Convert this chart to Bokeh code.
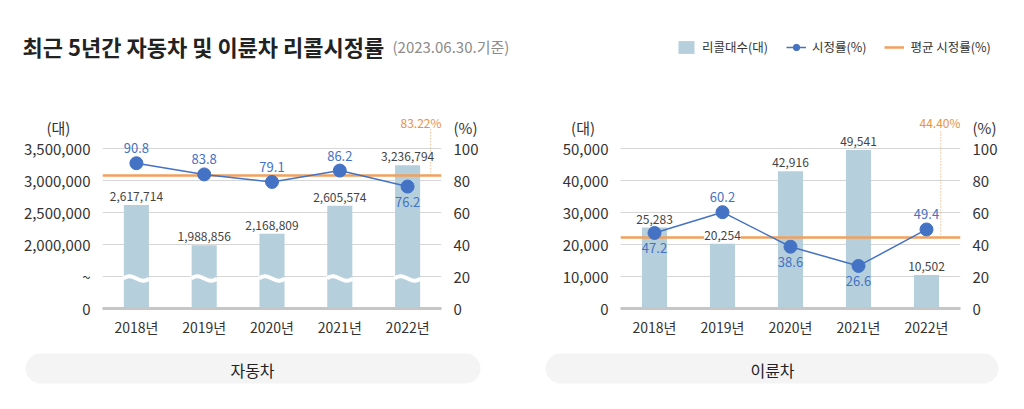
from bokeh.plotting import figure
from bokeh.models import (ColumnDataSource, FactorRange, Range1d, LinearAxis, FixedTicker,
                          NumeralTickFormatter, Legend, LegendItem, BoxAnnotation)
from bokeh.transform import dodge
from bokeh.layouts import column, row
from bokeh.core.properties import value
from bokeh.embed import file_html
from bokeh.resources import INLINE

# ---------------- data ----------------
title_text = "최근 5년간 자동차 및 이륜차 리콜시정률"
subtitle_text = "(2023.06.30.기준)"
years = ["2018년", "2019년", "2020년", "2021년", "2022년"]

car_recalls = [2617714, 1988856, 2168809, 2605574, 3236794]
car_rates = [90.8, 83.8, 79.1, 86.2, 76.2]
car_avg = 83.22

moto_recalls = [25283, 20254, 42916, 49541, 10502]
moto_rates = [47.2, 60.2, 38.6, 26.6, 49.4]
moto_avg = 44.40

pct_ticks = [0, 20, 40, 60, 80, 100]
car_count_ticks = [0, 20, 40, 60, 80, 100]
car_count_tick_labels = ["0", "~", "2,000,000", "2,500,000", "3,000,000", "3,500,000"]
moto_count_ticks = [0, 10000, 20000, 30000, 40000, 50000]

count_unit = "(대)"
pct_unit = "(%)"
legend_labels = ["리콜대수(대)", "시정률(%)", "평균 시정률(%)"]
panel_names = ["자동차", "이륜차"]

# broken axis for cars: 2,000,000..3,500,000 drawn over 40..100 of the % scale
car_break_lo, car_break_hi = 2000000, 3500000

# ---------------- styles / layout ----------------
FONT = "Noto Sans CJK KR"
BAR = "#b5d0dc"
BLUE = "#4472c4"
ORANGE = "#f2a15c"
ORANGE_TXT = "#f0913a"
TXT = "#333333"
GRID = "#d6d6d6"
HEADER_H = 115
PX_PER_PCT = 1.6
PCT_TOP = (308 - HEADER_H) / PX_PER_PCT     # % value at the top edge of the frame
UNIT_AT = (308 - 127) / PX_PER_PCT          # height (in %) of the unit captions
AVG_LAB_AT = (308 - 122) / PX_PER_PCT       # height of the average caption
DOT_TOP = (308 - 129) / PX_PER_PCT
NB = "\u00a0"

car_label_pos = ["above", "above", "above", "above", "below"]
moto_label_pos = ["below", "above", "below", "below", "above"]


def offsets(pos):
    return [-15 if s == "above" else 15 for s in pos]


def make_chart(width, bl, br, heights, counts, rates, pos, avg, scale, dot_off,
               left_ticks, left_overrides, use_numeral, wave=False):
    p = figure(width=width, height=343 - HEADER_H, x_range=FactorRange(*years),
               y_range=Range1d(0, PCT_TOP * scale), toolbar_location=None, output_backend="svg",
               min_border_left=bl, min_border_right=br, min_border_top=0, min_border_bottom=35)
    p.extra_y_ranges = {"pct": Range1d(0, PCT_TOP)}
    p.outline_line_color = None
    p.xgrid.visible = False
    p.ygrid.ticker = FixedTicker(ticks=left_ticks)
    p.ygrid.grid_line_color = GRID

    p.yaxis.ticker = FixedTicker(ticks=left_ticks + [UNIT_AT * scale])
    if use_numeral:
        p.yaxis.formatter = NumeralTickFormatter(format="0,0")
    p.yaxis.major_label_overrides = left_overrides
    ra = LinearAxis(y_range_name="pct", ticker=FixedTicker(ticks=pct_ticks + [UNIT_AT]),
                    major_label_overrides={UNIT_AT: pct_unit})
    p.add_layout(ra, "right")
    for ax in p.yaxis:
        ax.axis_line_color = None
        ax.major_tick_line_color = None
        ax.minor_tick_line_color = None
        ax.major_tick_out = 0
        ax.minor_tick_out = 0
        ax.major_label_text_font = FONT
        ax.major_label_text_font_size = "15px"
        ax.major_label_text_color = TXT
        ax.major_label_standoff = 12
    xa = p.xaxis[0]
    xa.axis_line_color = "#c6c6c6"
    xa.axis_line_width = 3
    xa.major_tick_line_color = None
    xa.minor_tick_line_color = None
    xa.major_tick_out = 0
    xa.minor_tick_out = 0
    xa.major_label_text_font = FONT
    xa.major_label_text_font_size = "14px"
    xa.major_label_text_color = TXT
    xa.major_label_standoff = 8

    src = ColumnDataSource(dict(
        year=years, h=heights,
        blab=[f"{v:,}" for v in counts],
        rate=rates, rlab=[f"{v:.1f}" for v in rates],
        roff=offsets(pos),
    ))
    p.vbar(x="year", top="h", width=0.37, source=src, fill_color=BAR, line_color=None)
    if wave:
        yb = 18.75
        p.bezier(x0=dodge("year", -0.19, range=p.x_range), y0=yb,
                 x1=dodge("year", 0.19, range=p.x_range), y1=yb,
                 cx0=dodge("year", -0.06, range=p.x_range), cy0=yb + 5,
                 cx1=dodge("year", 0.06, range=p.x_range), cy1=yb - 5,
                 source=src, line_color="white", line_width=4)
    p.hspan(y=[avg], y_range_name="pct", line_color=ORANGE, line_width=2.5)

    asrc = ColumnDataSource(dict(year=[years[-1]], avg=[avg], lab=[f"{avg:.2f}%"]))
    p.segment(x0=dodge("year", dot_off, range=p.x_range), y0="avg",
              x1=dodge("year", dot_off, range=p.x_range), y1=DOT_TOP,
              source=asrc, y_range_name="pct", line_color=ORANGE, line_width=1,
              line_dash="1 2")
    p.text(x=dodge("year", 0.5, range=p.x_range), y=AVG_LAB_AT, text="lab", source=asrc,
           y_range_name="pct", text_align="right", text_baseline="middle",
           text_font=value(FONT), text_font_size="12px", text_color=ORANGE_TXT)

    p.text(x="year", y="h", text="blab", source=src, text_align="center",
           text_baseline="bottom", y_offset=-4, text_font=value(FONT),
           text_font_size="12px", text_color="#444444", background_fill_color="white")
    p.line(x="year", y="rate", source=src, y_range_name="pct", line_color=BLUE, line_width=1.5)
    p.scatter(x="year", y="rate", source=src, y_range_name="pct", size=13,
              fill_color=BLUE, line_color=BLUE)
    p.text(x="year", y="rate", text="rlab", source=src, y_range_name="pct",
           y_offset="roff", text_align="center", text_baseline="middle",
           text_font=value(FONT), text_font_size="13px", text_color=BLUE)
    return p


car_heights = [40 + (v - car_break_lo) / (car_break_hi - car_break_lo) * 60 for v in car_recalls]
car_over = dict(zip(car_count_ticks, car_count_tick_labels))
car_over[UNIT_AT] = count_unit + NB * 6
moto_over = {UNIT_AT * 500: count_unit + NB * 4}

p1 = make_chart(520, 102, 79, car_heights, car_recalls, car_rates, car_label_pos, car_avg,
                1, 0.34, car_count_ticks, car_over, False, wave=True)
p2 = make_chart(488, 100, 48, moto_recalls, moto_recalls, moto_rates, moto_label_pos, moto_avg,
                500, 0.21, moto_count_ticks, moto_over, True)

# ---------------- header (title, legend) ----------------
H = HEADER_H
hp = figure(width=1008, height=H, x_range=Range1d(0, 1008), y_range=Range1d(0, H),
            min_border=0, toolbar_location=None, output_backend="svg",
            x_axis_type=None, y_axis_type=None)
hp.grid.visible = False
hp.outline_line_color = None
hp.text(x=[22], y=[H - 45], text=[title_text], text_font=value(FONT), text_font_size="22px",
        text_color="#222222", text_baseline="middle", text_font_style="bold")
hp.text(x=[392], y=[H - 46], text=[subtitle_text], text_font=value(FONT), text_font_size="15px",
        text_color="#8c8c8c", text_baseline="middle")

rb = hp.vbar(x=[-1000], top=[1], width=1, fill_color=BAR, line_color=None)
rl = hp.line(x=[-1000, -999], y=[1, 1], line_color=BLUE, line_width=1.5)
rs = hp.scatter(x=[-1000], y=[1], size=13, fill_color=BLUE, line_color=BLUE)
ro = hp.line(x=[-1000, -999], y=[1, 1], line_color=ORANGE, line_width=2.5)
leg = Legend(items=[LegendItem(label=legend_labels[0], renderers=[rb]),
                    LegendItem(label=legend_labels[1], renderers=[rl, rs]),
                    LegendItem(label=legend_labels[2], renderers=[ro])],
             orientation="horizontal", location=(676, H - 56), padding=0, margin=0,
             spacing=18, label_standoff=6, glyph_width=20, glyph_height=16,
             label_text_font=FONT, label_text_font_size="12.5px", label_text_color=TXT,
             border_line_color=None, background_fill_alpha=0)
hp.add_layout(leg)

# ---------------- panel name pills ----------------
pp = figure(width=1008, height=50, x_range=Range1d(0, 1008), y_range=Range1d(0, 50),
            min_border=0, toolbar_location=None, output_backend="svg",
            x_axis_type=None, y_axis_type=None)
pp.grid.visible = False
pp.outline_line_color = None
for l, r in [(25, 480), (545, 998)]:
    pp.add_layout(BoxAnnotation(left=l, right=r, bottom=10, top=40, fill_color="#f4f4f4",
                                fill_alpha=1, line_color=None, border_radius=15, level="underlay"))
pp.text(x=[252, 772], y=[24, 24], text=panel_names, text_font=value(FONT), text_font_size="16px",
        text_color="#222222", text_align="center", text_baseline="middle")

layout = column(hp, row(p1, p2), pp)
open("out.html", "w").write(file_html(layout, INLINE))
